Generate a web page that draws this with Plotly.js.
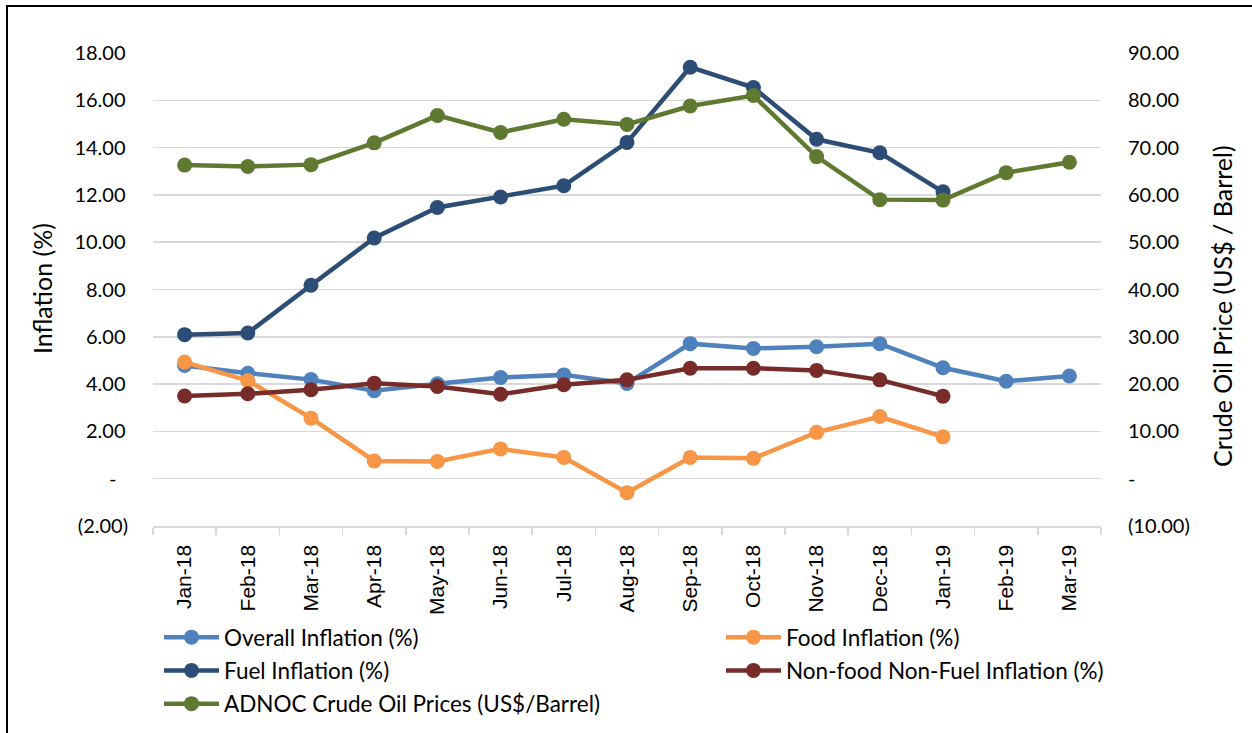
<!DOCTYPE html>
<html>
<head>
<meta charset="utf-8">
<script src="https://cdn.plot.ly/plotly-3.0.1.min.js"></script>
<style>
  html, body { margin: 0; padding: 0; background: #fff; overflow: hidden; }
  #chart { width: 1252px; height: 733px; }
</style>
</head>
<body>
<div id="chart"></div>
<script>
// ---- Data ----
const months = ['Jan-18','Feb-18','Mar-18','Apr-18','May-18','Jun-18','Jul-18','Aug-18','Sep-18','Oct-18','Nov-18','Dec-18','Jan-19','Feb-19','Mar-19'];
const overallInflation = [4.79, 4.46, 4.19, 3.72, 4.01, 4.28, 4.39, 4.03, 5.71, 5.51, 5.58, 5.71, 4.69, 4.12, 4.34];
const foodInflation    = [4.93, 4.15, 2.56, 0.75, 0.73, 1.26, 0.90, -0.59, 0.90, 0.86, 1.96, 2.63, 1.77, null, null];
const fuelInflation    = [6.09, 6.16, 8.18, 10.18, 11.47, 11.91, 12.39, 14.22, 17.40, 16.54, 14.35, 13.78, 12.13, null, null];
const nonFoodInflation = [3.50, 3.59, 3.76, 4.04, 3.90, 3.57, 3.97, 4.18, 4.67, 4.67, 4.58, 4.18, 3.49, null, null];
const adnocPrice       = [66.3, 66.0, 66.4, 71.0, 76.8, 73.2, 76.0, 74.9, 78.8, 81.0, 68.1, 59.0, 58.9, 64.7, 66.9];

const leftTickVals  = [-2, 0, 2, 4, 6, 8, 10, 12, 14, 16, 18];
const leftTickText  = ['(2.00)', '-\u2007', '2.00\u2009', '4.00\u2009', '6.00\u2009', '8.00\u2009', '10.00\u2009', '12.00\u2009', '14.00\u2009', '16.00\u2009', '18.00\u2009'];
const rightTickVals = [-10, 0, 10, 20, 30, 40, 50, 60, 70, 80, 90];
const rightTickText = ['(10.00)', '-', '10.00', '20.00', '30.00', '40.00', '50.00', '60.00', '70.00', '80.00', '90.00'];

const seriesNames = ['Overall Inflation (%)', 'Food Inflation (%)', 'Fuel Inflation (%)', 'Non-food Non-Fuel Inflation (%)', 'ADNOC Crude Oil Prices (US$/Barrel)'];
const seriesColors = ['#4F81BD', '#F79646', '#2C4D75', '#772C2A', '#5F7A30'];

// ---- Layout geometry ----
const W = 1252, H = 733;
const M = { l: 153, r: 151, t: 53, b: 207, autoexpand: false };
const pw = W - M.l - M.r, ph = H - M.t - M.b;
const px = x => (x - M.l) / pw;          // pixel -> paper x
const py = y => (H - M.b - y) / ph;      // pixel -> paper y

const font = 'Lato, "Open Sans", sans-serif';

function mk(i, y, axis, legend) {
  return {
    type: 'scatter', mode: 'lines+markers',
    x: months, y: y, yaxis: axis,
    name: seriesNames[i],
    legend: legend, legendgroup: 'g' + i,
    line: { color: seriesColors[i], width: 4.5 },
    marker: { color: seriesColors[i], size: 15, symbol: 'circle' },
    connectgaps: false,
    hoverinfo: 'x+y+name'
  };
}

const data = [
  mk(0, overallInflation, 'y', 'legend'),
  mk(1, foodInflation, 'y', 'legend2'),
  mk(2, fuelInflation, 'y', 'legend'),
  mk(3, nonFoodInflation, 'y', 'legend2'),
  mk(4, adnocPrice, 'y2', 'legend')
];

const legendCommon = {
  orientation: 'v', traceorder: 'grouped', tracegroupgap: 1,
  font: { family: font, size: 22.5, color: '#000' },
  bgcolor: 'rgba(0,0,0,0)', borderwidth: 0,
  itemwidth: 55, xanchor: 'left', yanchor: 'top'
};

const layout = {
  width: W, height: H,
  margin: M,
  paper_bgcolor: '#fff', plot_bgcolor: '#fff',
  font: { family: font, color: '#000' },
  showlegend: true,
  xaxis: {
    type: 'category',
    range: [-0.5, months.length - 0.5],
    tickangle: -90,
    tickfont: { family: '"Liberation Sans", Arial, sans-serif', size: 21, color: '#000' },
    ticks: 'outside', tickson: 'boundaries', ticklen: 7, tickwidth: 1.5, tickcolor: '#d9d9d9',
    ticklabelstandoff: 9,
    showline: true, linecolor: '#d9d9d9', linewidth: 1.5,
    showgrid: false, zeroline: false, fixedrange: true, automargin: false
  },
  yaxis: {
    range: [-2, 18],
    tickvals: leftTickVals, ticktext: leftTickText,
    tickfont: { family: font, size: 20, color: '#000' },
    ticks: '', ticklabelstandoff: 24,
    showgrid: true, gridcolor: '#d9d9d9', gridwidth: 1.5,
    zeroline: false, showline: false, fixedrange: true, automargin: false
  },
  yaxis2: {
    range: [-10, 90], overlaying: 'y', side: 'right',
    tickvals: rightTickVals, ticktext: rightTickText,
    tickfont: { family: font, size: 20, color: '#000' },
    ticks: '', ticklabelstandoff: 26,
    showgrid: false, zeroline: false, showline: false, fixedrange: true, automargin: false
  },
  legend: Object.assign({}, legendCommon, { x: px(159), y: py(616) }),
  legend2: Object.assign({}, legendCommon, { x: px(721), y: py(616) }),
  annotations: [
    { text: 'Inflation (%)', textangle: -90, showarrow: false,
      xref: 'paper', yref: 'paper', x: px(42), y: py(289), xanchor: 'center', yanchor: 'middle',
      font: { family: font, size: 25, color: '#000' } },
    { text: 'Crude Oil Price (US$ / Barrel)', textangle: -90, showarrow: false,
      xref: 'paper', yref: 'paper', x: px(1222), y: py(306), xanchor: 'center', yanchor: 'middle',
      font: { family: font, size: 25, color: '#000' } }
  ],
  shapes: [
    { type: 'path', xref: 'paper', yref: 'paper',
      path: 'M ' + px(7) + ' ' + py(740) + ' L ' + px(7) + ' ' + py(6) + ' L ' + px(1260) + ' ' + py(6),
      line: { color: '#000', width: 2 } }
  ]
};

Plotly.newPlot('chart', data, layout, { displayModeBar: false, staticPlot: true });
</script>
</body>
</html>
